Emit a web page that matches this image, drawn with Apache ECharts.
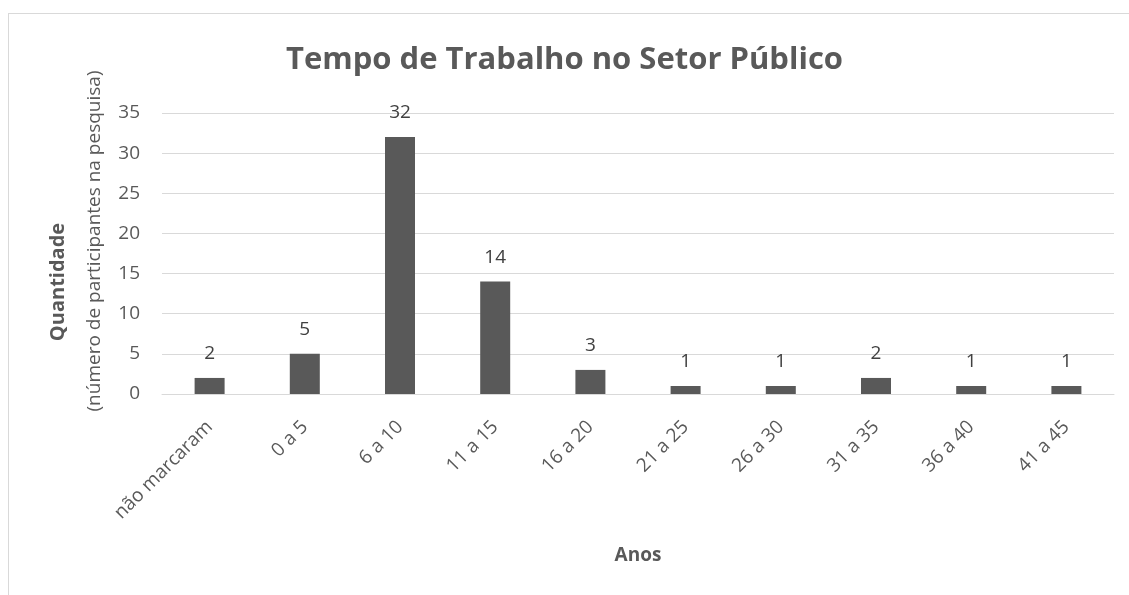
<!DOCTYPE html>
<html>
<head>
<meta charset="utf-8">
<script src="https://cdn.jsdelivr.net/npm/echarts@6/dist/echarts.min.js"></script>
<style>
  html, body { margin: 0; padding: 0; background: #fff; }
  #frame { position: absolute; left: 8px; top: 13px; width: 1140px; height: 600px; border: 1px solid #d9d9d9; }
  #main { position: absolute; left: 0; top: 0; width: 1129px; height: 595px; }
</style>
</head>
<body>
<div id="frame"></div>
<div id="main"></div>
<script>
  // faixas de tempo de trabalho
  var categorias = ['não marcaram', '0 a 5', '6 a 10', '11 a 15', '16 a 20', '21 a 25', '26 a 30', '31 a 35', '36 a 40', '41 a 45'];
  var quantidades = [2, 5, 32, 14, 3, 1, 1, 2, 1, 1];
  var cinza = '#595959';
  var fonte = '"Open Sans", "Noto Sans", sans-serif';

  var chart = echarts.init(document.getElementById('main'));
  chart.setOption({
    animation: false,
    textStyle: { fontFamily: fonte },
    title: {
      text: 'Tempo de Trabalho no Setor Público',
      left: 'center',
      top: 40,
      textStyle: { fontSize: 31, fontWeight: 'bold', color: cinza, fontFamily: fonte }
    },
    // titulo do eixo Y em duas linhas
    graphic: [
      {
        type: 'text', x: 58, y: 282, rotation: Math.PI / 2,
        style: { text: 'Quantidade', font: 'bold 20px ' + fonte, fill: cinza, align: 'center', verticalAlign: 'middle' }
      },
      {
        type: 'text', x: 95, y: 241, rotation: Math.PI / 2,
        style: { text: '(número de participantes na pesquisa)', font: '19px ' + fonte, fill: cinza, align: 'center', verticalAlign: 'middle' }
      }
    ],
    grid: { left: 162, right: 15, top: 113, bottom: 201, containLabel: false },
    xAxis: {
      type: 'category',
      data: categorias,
      name: 'Anos',
      nameLocation: 'middle',
      nameGap: 152,
      nameTextStyle: { fontSize: 19, fontWeight: 'bold', color: cinza },
      axisLine: { lineStyle: { color: '#d9d9d9', width: 1 } },
      axisTick: { show: false },
      axisLabel: { rotate: 45, fontSize: 19, color: cinza, margin: 30, interval: 0 }
    },
    yAxis: {
      type: 'value',
      min: 0,
      max: 35,
      interval: 5,
      axisLine: { show: false },
      axisTick: { show: false },
      axisLabel: { fontSize: 19, color: cinza, margin: 22 },
      splitLine: { lineStyle: { color: '#d9d9d9', width: 1 } }
    },
    series: [{
      type: 'bar',
      data: quantidades,
      barWidth: 30,
      itemStyle: { color: cinza },
      label: { show: true, position: 'top', distance: 15, fontSize: 19, color: '#404040' }
    }]
  });
</script>
</body>
</html>
